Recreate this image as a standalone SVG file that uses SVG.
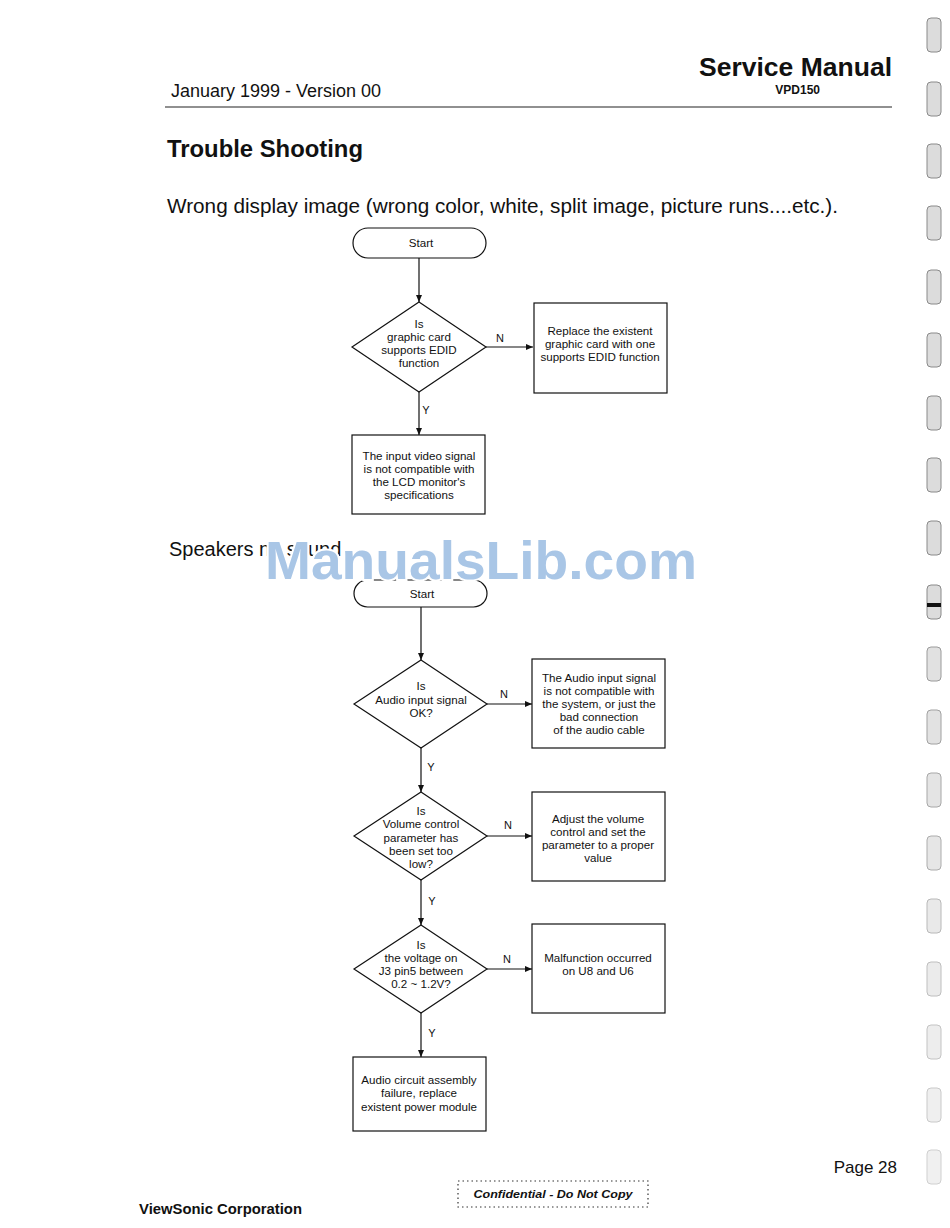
<svg xmlns="http://www.w3.org/2000/svg" width="950" height="1228" viewBox="0 0 950 1228">
<defs>
<marker id="arr" markerWidth="8" markerHeight="8" refX="7" refY="4" orient="auto" markerUnits="userSpaceOnUse">
<path d="M0,1 L7,4 L0,7 Z" fill="#111"/>
</marker>
<style>
text{font-family:"Liberation Sans",Arial,sans-serif;fill:#111}
.t{font-size:11.6px;text-anchor:middle}
.shape{fill:#fff;stroke:#111;stroke-width:1.2}
.con{stroke:#111;stroke-width:1.2;fill:none}
.lbl{font-size:11px;text-anchor:middle}
.hole{fill:#dcdcdc;stroke:#8a8a8a;stroke-width:1}
</style>
</defs>
<rect width="950" height="1228" fill="#fff"/>

<!-- header -->
<text x="892" y="76" font-size="26.5" font-weight="bold" text-anchor="end">Service Manual</text>
<text x="171" y="97" font-size="17.5" textLength="210" lengthAdjust="spacingAndGlyphs">January 1999 - Version 00</text>
<text x="820" y="94" font-size="12" font-weight="bold" text-anchor="end">VPD150</text>
<line x1="165" y1="107" x2="892" y2="107" stroke="#222" stroke-width="1.2"/>

<text x="167" y="157" font-size="23.5" font-weight="bold" textLength="196" lengthAdjust="spacingAndGlyphs">Trouble Shooting</text>
<text x="167" y="213" font-size="20" textLength="671" lengthAdjust="spacingAndGlyphs">Wrong display image (wrong color, white, split image, picture runs....etc.).</text>

<!-- connectors -->
<g id="connectors">
<line class="con" x1="419" y1="258" x2="419" y2="302" marker-end="url(#arr)"/>
<line class="con" x1="486" y1="347" x2="533" y2="347" marker-end="url(#arr)"/>
<text class="lbl" x="500" y="342">N</text>
<line class="con" x1="419" y1="392" x2="419" y2="435" marker-end="url(#arr)"/>
<text class="lbl" x="426" y="414">Y</text>

<line class="con" x1="421" y1="607" x2="421" y2="660" marker-end="url(#arr)"/>
<line class="con" x1="487" y1="704" x2="532" y2="704" marker-end="url(#arr)"/>
<text class="lbl" x="504" y="698">N</text>
<line class="con" x1="421" y1="748" x2="421" y2="792" marker-end="url(#arr)"/>
<text class="lbl" x="431" y="771">Y</text>
<line class="con" x1="487" y1="836" x2="532" y2="836" marker-end="url(#arr)"/>
<text class="lbl" x="508" y="829">N</text>
<line class="con" x1="421" y1="880" x2="421" y2="925" marker-end="url(#arr)"/>
<text class="lbl" x="432" y="905">Y</text>
<line class="con" x1="487" y1="969" x2="532" y2="969" marker-end="url(#arr)"/>
<text class="lbl" x="507" y="963">N</text>
<line class="con" x1="421" y1="1013" x2="421" y2="1057" marker-end="url(#arr)"/>
<text class="lbl" x="432" y="1037">Y</text>
</g>

<!-- flowchart 1 -->
<g id="start1">
<rect class="shape" x="353" y="228" width="133" height="30" rx="15" ry="15"/>
<text class="t" x="421" y="247">Start</text>
</g>
<g id="dec1">
<polygon class="shape" points="419,302 486,347 419,392 352,347"/>
<text class="t" x="419" y="328">Is</text>
<text class="t" x="419" y="341">graphic card</text>
<text class="t" x="419" y="354">supports EDID</text>
<text class="t" x="419" y="367">function</text>
</g>
<g id="replace">
<rect class="shape" x="534" y="303" width="133" height="90"/>
<text class="t" x="600" y="335">Replace the existent</text>
<text class="t" x="600" y="348">graphic card with one</text>
<text class="t" x="600" y="361">supports EDID function</text>
</g>
<g id="notcompat">
<rect class="shape" x="352" y="435" width="133" height="79"/>
<text class="t" x="419" y="460">The input video signal</text>
<text class="t" x="419" y="473">is not compatible with</text>
<text class="t" x="419" y="486">the LCD monitor's</text>
<text class="t" x="419" y="499">specifications</text>
</g>

<text x="169" y="556" font-size="20">Speakers no sound</text>

<!-- flowchart 2 -->
<g id="start2">
<rect class="shape" x="354" y="580" width="133" height="27" rx="13.5" ry="13.5"/>
<text class="t" x="422" y="598">Start</text>
</g>
<g id="dec2">
<polygon class="shape" points="421,660 487,704 421,748 354,704"/>
<text class="t" x="421" y="690">Is</text>
<text class="t" x="421" y="704">Audio input signal</text>
<text class="t" x="421" y="717">OK?</text>
</g>
<g id="audiobox">
<rect class="shape" x="532" y="659" width="133" height="89"/>
<text class="t" x="599" y="682">The Audio input signal</text>
<text class="t" x="599" y="695">is not compatible with</text>
<text class="t" x="599" y="708">the system, or just the</text>
<text class="t" x="599" y="721">bad connection</text>
<text class="t" x="599" y="734">of the audio cable</text>
</g>
<g id="dec3">
<polygon class="shape" points="421,792 487,836 421,880 354,836"/>
<text class="t" x="421" y="815">Is</text>
<text class="t" x="421" y="828">Volume control</text>
<text class="t" x="421" y="842">parameter has</text>
<text class="t" x="421" y="855">been set too</text>
<text class="t" x="421" y="868">low?</text>
</g>
<g id="volbox">
<rect class="shape" x="532" y="792" width="133" height="89"/>
<text class="t" x="598" y="823">Adjust the volume</text>
<text class="t" x="598" y="836">control and set the</text>
<text class="t" x="598" y="849">parameter to a proper</text>
<text class="t" x="598" y="862">value</text>
</g>
<g id="dec4">
<polygon class="shape" points="421,925 487,969 421,1013 354,969"/>
<text class="t" x="421" y="949">Is</text>
<text class="t" x="421" y="962">the voltage on</text>
<text class="t" x="421" y="975">J3 pin5 between</text>
<text class="t" x="421" y="988">0.2 ~ 1.2V?</text>
</g>
<g id="malbox">
<rect class="shape" x="532" y="924" width="133" height="89"/>
<text class="t" x="598" y="962">Malfunction occurred</text>
<text class="t" x="598" y="975">on U8 and U6</text>
</g>
<g id="audiofail">
<rect class="shape" x="353" y="1057" width="133" height="74"/>
<text class="t" x="419" y="1084">Audio circuit assembly</text>
<text class="t" x="419" y="1097">failure, replace</text>
<text class="t" x="419" y="1111">existent power module</text>
</g>

<!-- watermark -->
<text x="265" y="579" font-size="54" font-weight="bold" style="fill:#a9c6e6;stroke:#fff;stroke-width:4;paint-order:stroke" textLength="432" lengthAdjust="spacingAndGlyphs">ManualsLib.com</text>

<!-- footer -->
<text x="897" y="1173" font-size="17" text-anchor="end">Page 28</text>
<text x="139" y="1214" font-size="14.5" font-weight="bold" textLength="163" lengthAdjust="spacingAndGlyphs">ViewSonic Corporation</text>
<rect x="458" y="1181" width="190" height="26" fill="none" stroke="#333" stroke-width="1.2" stroke-dasharray="1.5,3"/>
<text x="553" y="1198" font-size="11.5" font-weight="bold" font-style="italic" text-anchor="middle" textLength="159" lengthAdjust="spacingAndGlyphs">Confidential  -  Do Not Copy</text>

<!-- binding holes -->
<g id="holes">
<rect class="hole" x="927" y="18" width="14" height="34" rx="4"/>
<rect class="hole" x="927" y="82" width="14" height="34" rx="4"/>
<rect class="hole" x="927" y="144" width="14" height="34" rx="4"/>
<rect class="hole" x="927" y="206" width="14" height="34" rx="4"/>
<rect class="hole" x="927" y="270" width="14" height="34" rx="4"/>
<rect class="hole" x="927" y="333" width="14" height="34" rx="4"/>
<rect class="hole" x="927" y="396" width="14" height="34" rx="4"/>
<rect class="hole" x="927" y="458" width="14" height="34" rx="4"/>
<rect class="hole" x="927" y="521" width="14" height="34" rx="4"/>
<rect class="hole" x="927" y="585" width="14" height="34" rx="4"/>
<rect x="927" y="603" width="14" height="4" fill="#111"/>
<rect class="hole" x="927" y="647" width="14" height="34" rx="4" opacity="0.85"/>
<rect class="hole" x="927" y="710" width="14" height="34" rx="4" opacity="0.8"/>
<rect class="hole" x="927" y="773" width="14" height="34" rx="4" opacity="0.75"/>
<rect class="hole" x="927" y="836" width="14" height="34" rx="4" opacity="0.7"/>
<rect class="hole" x="927" y="899" width="14" height="34" rx="4" opacity="0.6"/>
<rect class="hole" x="927" y="962" width="14" height="34" rx="4" opacity="0.55"/>
<rect class="hole" x="927" y="1025" width="14" height="34" rx="4" opacity="0.5"/>
<rect class="hole" x="927" y="1088" width="14" height="34" rx="4" opacity="0.45"/>
<rect class="hole" x="927" y="1150" width="14" height="34" rx="4" opacity="0.4"/>
</g>
</svg>
